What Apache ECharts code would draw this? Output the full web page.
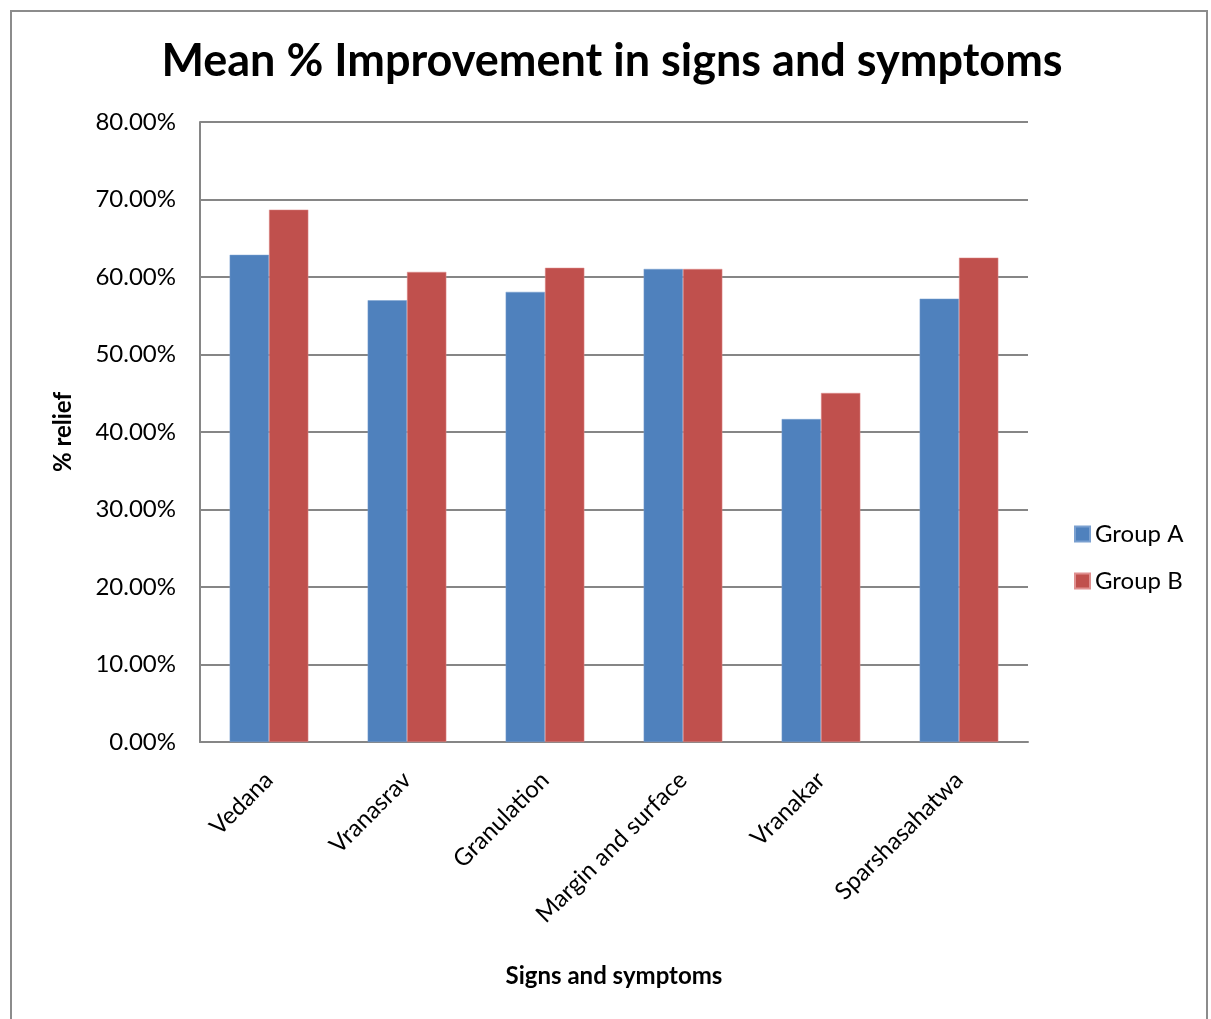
<!DOCTYPE html>
<html>
<head>
<meta charset="utf-8">
<script src="https://cdn.jsdelivr.net/npm/echarts@6/dist/echarts.min.js"></script>
<style>
  html, body { margin: 0; padding: 0; background: #fff; }
  #frame { position: absolute; left: 10px; top: 10px; width: 1198px; height: 1020px; border: 2px solid #8c8c8c; box-sizing: border-box; }
  #chart { position: absolute; left: 0; top: 0; width: 1211px; height: 1019px; }
</style>
</head>
<body>
<div id="frame"></div>
<div id="chart"></div>
<script>
// Signs and symptoms assessed
const categories = ['Vedana', 'Vranasrav', 'Granulation', 'Margin and surface', 'Vranakar', 'Sparshasahatwa'];
// Mean % relief per group
const groupA = [62.86, 57.00, 58.08, 61.04, 41.67, 57.20];
const groupB = [68.69, 60.66, 61.19, 61.04, 45.04, 62.50];
const seriesNames = ['Group A', 'Group B'];

const FONT = 'Lato, "Open Sans", sans-serif';
const chart = echarts.init(document.getElementById('chart'), null, { renderer: 'canvas' });

chart.setOption({
  animation: false,
  title: {
    text: 'Mean % Improvement in signs and symptoms',
    left: 607, top: 34, textAlign: 'center',
    textStyle: { fontFamily: FONT, fontSize: 45, fontWeight: 'bold', color: '#000' }
  },
  legend: {
    orient: 'vertical', left: 1069, top: 517,
    itemWidth: 15, itemHeight: 15, itemGap: 23,
    icon: 'rect',
    textStyle: { fontFamily: FONT, fontSize: 24, color: '#000', padding: [0, 0, 0, 0] },
    data: seriesNames
  },
  grid: { left: 200, right: 183, top: 122, bottom: 277, containLabel: false },
  xAxis: {
    type: 'category', data: categories,
    name: 'Signs and symptoms', nameLocation: 'middle', nameGap: 222,
    nameTextStyle: { fontFamily: FONT, fontSize: 24, fontWeight: 'bold', color: '#000', padding: [0, 0, 0, 0] },
    axisLine: { lineStyle: { color: '#868686', width: 2 } },
    axisTick: { show: false },
    axisLabel: { rotate: 45, interval: 0, margin: 34, fontFamily: FONT, fontSize: 24, color: '#000' }
  },
  yAxis: {
    type: 'value', min: 0, max: 80, interval: 10,
    name: '% relief', nameLocation: 'middle', nameGap: 125, nameRotate: 90,
    nameTextStyle: { fontFamily: FONT, fontSize: 24, fontWeight: 'bold', color: '#000' },
    axisLine: { show: true, lineStyle: { color: '#868686', width: 2 } },
    axisTick: { show: false },
    splitLine: { lineStyle: { color: '#868686', width: 2 } },
    axisLabel: {
      margin: 24, fontFamily: FONT, fontSize: 24, color: '#000',
      formatter: v => v.toFixed(2) + '%'
    }
  },
  series: [
    {
      name: seriesNames[0], type: 'bar', data: groupA,
      barGap: '0%', barCategoryGap: '43%',
      itemStyle: { color: '#4f81bd', borderColor: '#7aa0d0', borderWidth: 0.5 }
    },
    {
      name: seriesNames[1], type: 'bar', data: groupB,
      itemStyle: { color: '#c0504d', borderColor: '#e09090', borderWidth: 0.5 }
    }
  ]
});
</script>
</body>
</html>
